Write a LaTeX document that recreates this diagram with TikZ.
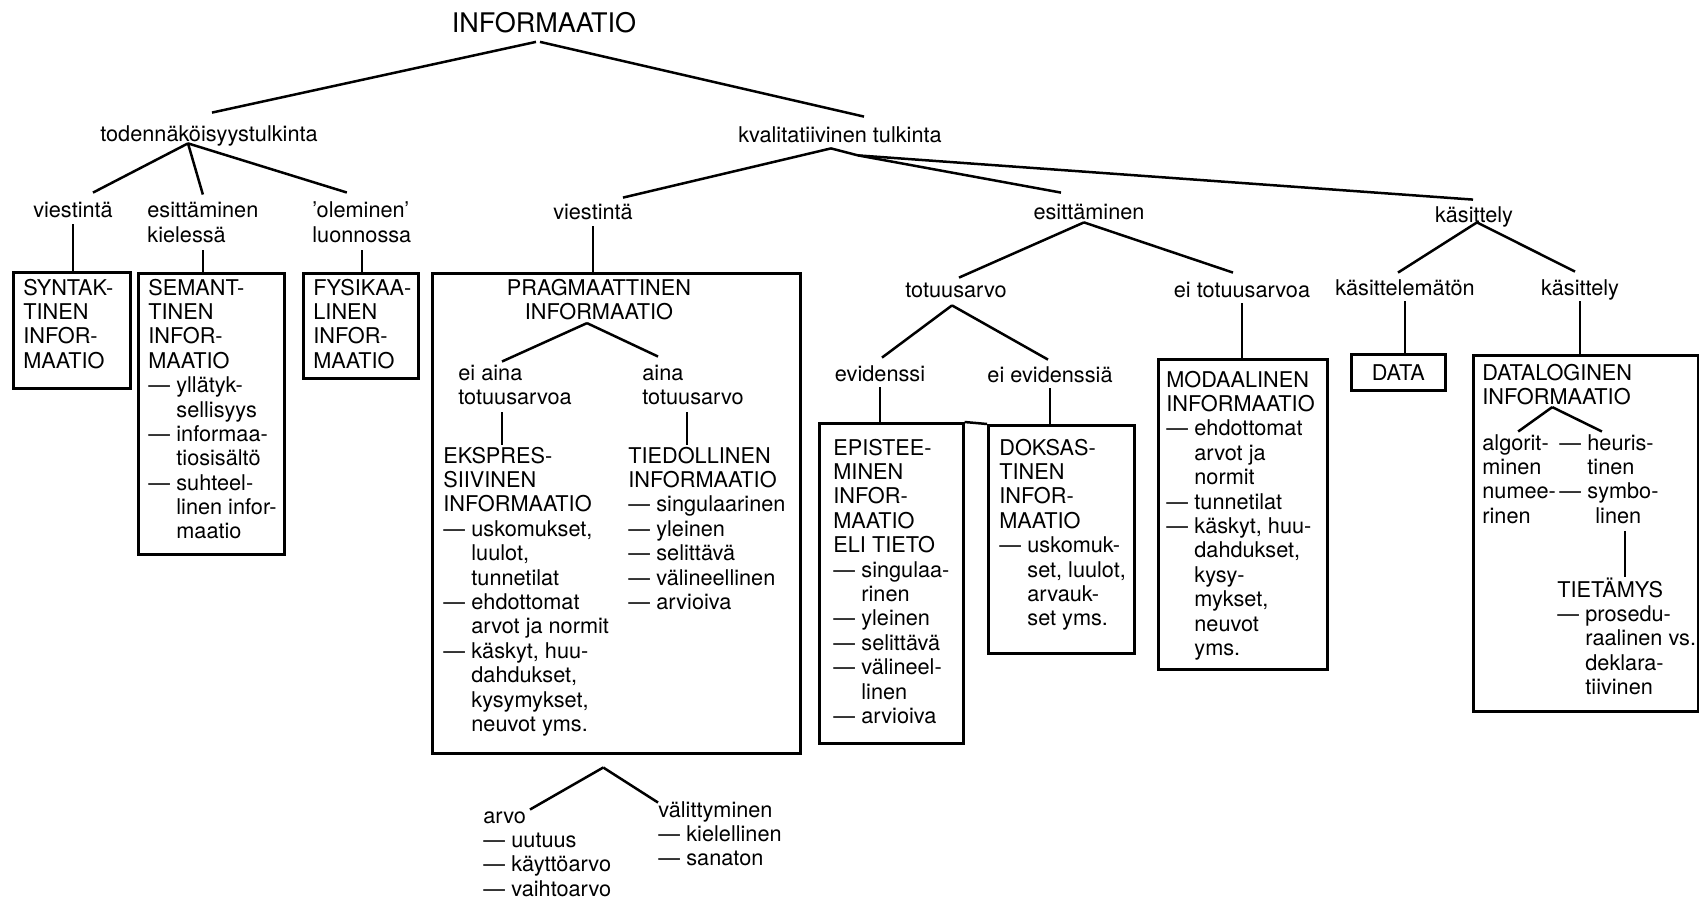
\documentclass[tikz,border=0pt]{standalone}
\usepackage{fontspec}
\setmainfont{TeX Gyre Heros}
\usetikzlibrary{calc}
\newcommand{\bodyfont}{\fontsize{10.85pt}{12.2pt}\selectfont}
\newcommand{\itm}{\makebox[14pt][l]{\textemdash}}
\newcommand{\ind}{\hspace*{14pt}}
\newcommand{\stackl}[1]{\begin{tabular}[t]{@{}l@{}}#1\end{tabular}}
\newcommand{\stackc}[1]{\begin{tabular}[t]{@{}c@{}}#1\end{tabular}}
\tikzset{
  link/.style={line width=1.25pt},
  stem/.style={line width=1.25pt, shorten <=3pt},
  txt/.style={inner sep=0pt, anchor=base west, font=\bodyfont},
  lbl/.style={inner sep=0pt, anchor=base, font=\bodyfont, text height=10pt, text depth=0pt},
  box/.style={draw, line width=1.25pt, inner sep=0pt, anchor=north west},
  title/.style={inner sep=0pt, anchor=base, font=\fontsize{13.5pt}{15pt}\selectfont},
}

\begin{document}
\begin{tikzpicture}[x=0.5pt, y=-0.5pt]
  \useasboundingbox (0,0) rectangle (1699,899);
  % Top
  \node[title] (info) at (544,33) {INFORMAATIO};
  \node[lbl] (tod) at (209,142) {todennäköisyystulkinta};
  \node[lbl] (kval) at (840,143) {kvalitatiivinen tulkinta};
  \draw[link] ($(info.south)+(-8,8)$) -- ($(tod.north)+(3,-9)$);
  \draw[link] ($(info.south)+(-4,8)$) -- ($(kval.north)+(24,-6)$);
  % Todennakoisyystulkinta
  \node[lbl] (viest1) at (73,218) {viestintä};
  \node[txt] (esk) at (147,218) {\stackl{esittäminen\\kielessä}};
  \node[txt] (olem) at (312,218) {\stackl{'oleminen'\\luonnossa}};
  \draw[link] ($(tod.south)+(-21,1)$) -- ($(viest1.north)+(20,-5)$);
  \draw[link] ($(tod.south)+(-21,1)$) -- ($(esk.north)+(0,-6)$);
  \draw[link] ($(tod.south)+(-21,1)$) -- ($(olem.north)+(-15,-8)$);
  \node[box, minimum width=58.5pt, minimum height=58pt] (syn) at (12,271) {};
  \node[txt] (syn-t) at (23,295) {\stackl{SYNTAK-\\TINEN\\INFOR-\\MAATIO}};
  \node[box, minimum width=73pt, minimum height=140.5pt] (sem) at (137,272) {};
  \node[txt] (sem-t) at (148,295) {\stackl{SEMANT-\\TINEN\\INFOR-\\MAATIO\\\itm yllätyk-\\\ind sellisyys\\\itm informaa-\\\ind tiosisältö\\\itm suhteel-\\\ind linen infor-\\\ind maatio}};
  \node[box, minimum width=57.5pt, minimum height=52.5pt] (fys) at (302,272) {};
  \node[txt] (fys-t) at (313,295) {\stackl{FYSIKAA-\\LINEN\\INFOR-\\MAATIO}};
  \draw[stem] (viest1.south) -- (viest1.south |- syn.north);
  \draw[link] (esk.south) -- (esk.south |- sem.north);
  \draw[link] (olem.south) -- (olem.south |- fys.north);
  % Kvalitatiivinen tulkinta
  \node[lbl] (viest2) at (593,220) {viestintä};
  \node[lbl] (esit2) at (1089,220) {esittäminen};
  \node[lbl] (kasit) at (1474,222) {käsittely};
  \draw[link] ($(kval.south)+(-9,5)$) -- ($(viest2.north)+(30,-2)$);
  \draw[link] ($(kval.south)+(-9,5)$) -- ($(kval.south)+(18,12)$);
  \draw[link] ($(kval.south)+(18,12)$) -- ($(esit2.north)+(-28,-7)$);
  \draw[link] ($(kval.south)+(18,12)$) -- ($(kasit.north)+(-1,-2)$);
  % Pragmaattinen
  \node[box, minimum width=184pt, minimum height=240pt] (prag) at (431,272) {};
  \draw[stem] (viest2.south) -- (viest2.south |- prag.north);
  \node[txt, anchor=base] (prag-t) at (599,295) {\stackc{PRAGMAATTINEN\\INFORMAATIO}};
  \node[txt] (eiaina) at (458,380) {\stackl{ei aina\\totuusarvoa}};
  \node[txt] (aina) at (642,380) {\stackl{aina\\totuusarvo}};
  \draw[link] ($(prag-t.south)+(-12,-4)$) -- ($(eiaina.north west)+(44,-1)$);
  \draw[link] ($(prag-t.south)+(-12,-4)$) -- ($(aina.north west)+(16,-6)$);
  \node[txt] (ekspr) at (443,463) {\stackl{EKSPRES-\\SIIVINEN\\INFORMAATIO\\\itm uskomukset,\\\ind luulot,\\\ind tunnetilat\\\itm ehdottomat\\\ind arvot ja normit\\\itm käskyt, huu-\\\ind dahdukset,\\\ind kysymykset,\\\ind neuvot yms.}};
  \node[txt] (tied) at (628,463) {\stackl{TIEDOLLINEN\\INFORMAATIO\\\itm singulaarinen\\\itm yleinen\\\itm selittävä\\\itm välineellinen\\\itm arvioiva}};
  \draw[link] ($(eiaina.south west)+(44,0)$) -- ($(ekspr.north west)+(59,-1)$);
  \draw[link] ($(aina.south west)+(45,0)$) -- ($(tied.north west)+(59,-1)$);
  \node[txt] (arvo) at (483,823) {\stackl{arvo\\\itm uutuus\\\itm käyttöarvo\\\itm vaihtoarvo}};
  \node[txt] (valit) at (658,817) {\stackl{välittyminen\\\itm kielellinen\\\itm sanaton}};
  \draw[link] ($(prag.south)+(-13,13)$) -- ($(arvo.north west)+(47,4)$);
  \draw[link] ($(prag.south)+(-13,13)$) -- ($(valit.north west)+(0,3)$);
  % Esittaminen
  \node[lbl] (totu) at (956,297) {totuusarvo};
  \node[lbl] (eitotu) at (1242,297) {ei totuusarvoa};
  \draw[link] ($(esit2.south)+(-5,2)$) -- ($(totu.north)+(3,1)$);
  \draw[link] ($(esit2.south)+(-5,2)$) -- ($(eitotu.north)+(-9,-4)$);
  \node[lbl] (evid) at (880,381) {evidenssi};
  \node[lbl] (eievid) at (1050,382) {ei evidenssiä};
  \draw[link] ($(totu.south)+(-4,8)$) -- ($(evid.north)+(2,-3)$);
  \draw[link] ($(totu.south)+(-4,8)$) -- ($(eievid.north)+(-2,-2)$);
  \node[box, minimum width=72pt, minimum height=160pt] (epi) at (818,422) {};
  \node[box, minimum width=73pt, minimum height=114pt] (dok) at (987,424) {};
  \draw[link] (epi.north east) -- (dok.north west);
  \draw[stem] (evid.south) -- (evid.south |- epi.north);
  \draw[stem] (eievid.south) -- (eievid.south |- dok.north);
  \node[txt] (epi-t) at (833,455) {\stackl{EPISTEE-\\MINEN\\INFOR-\\MAATIO\\ELI TIETO\\\itm singulaa-\\\ind rinen\\\itm yleinen\\\itm selittävä\\\itm välineel-\\\ind linen\\\itm arvioiva}};
  \node[txt] (dok-t) at (999,455) {\stackl{DOKSAS-\\TINEN\\INFOR-\\MAATIO\\\itm uskomuk-\\\ind set, luulot,\\\ind arvauk-\\\ind set yms.}};
  \node[box, minimum width=84.5pt, minimum height=155pt] (moda) at (1157,358) {};
  \draw[stem] (eitotu.south) -- (eitotu.south |- moda.north);
  \node[txt] (moda-t) at (1166,387) {\stackl{MODAALINEN\\INFORMAATIO\\\itm ehdottomat\\\ind arvot ja\\\ind normit\\\itm tunnetilat\\\itm käskyt, huu-\\\ind dahdukset,\\\ind kysy-\\\ind mykset,\\\ind neuvot\\\ind yms.}};
  % Kasittely
  \node[lbl] (kasem) at (1405,295) {käsittelemätön};
  \node[lbl] (kasit2) at (1580,295) {käsittely};
  \draw[link] ($(kasit.south)+(3,0)$) -- ($(kasem.north)+(-7,-2)$);
  \draw[link] ($(kasit.south)+(3,0)$) -- ($(kasit2.north)+(-5,-3)$);
  \node[box, minimum width=47pt, minimum height=18pt, font=\bodyfont] (data) at (1350,353) {DATA};
  \draw[stem] (kasem.south) -- (kasem.south |- data.north);
  \node[box, minimum width=112.5pt, minimum height=178pt] (dlog) at (1472,354) {};
  \draw[stem] (kasit2.south) -- (kasit2.south |- dlog.north);
  \node[txt] (dlog-t) at (1482,380) {\stackl{DATALOGINEN\\INFORMAATIO}};
  \node[txt] (alg) at (1482,450) {\stackl{algorit-\\minen\\numee-\\rinen}};
  \node[txt] (heur) at (1559,450) {\stackl{\itm heuris-\\\ind tinen\\\itm symbo-\\\hspace*{18pt}linen}};
  \draw[link] ($(dlog-t.south)+(-5,-5)$) -- ($(alg.north)+(-1,-1)$);
  \draw[link] ($(dlog-t.south)+(-5,-5)$) -- ($(heur.north)+(-7,-1)$);
  \node[txt] (tiet) at (1557,597) {\stackl{TIETÄMYS\\\itm prosedu-\\\ind raalinen vs.\\\ind deklara-\\\ind tiivinen}};
  \draw[link] ($(heur.south west)+(66,0)$) -- ($(tiet.north west)+(68,0)$);
\end{tikzpicture}
\end{document}
